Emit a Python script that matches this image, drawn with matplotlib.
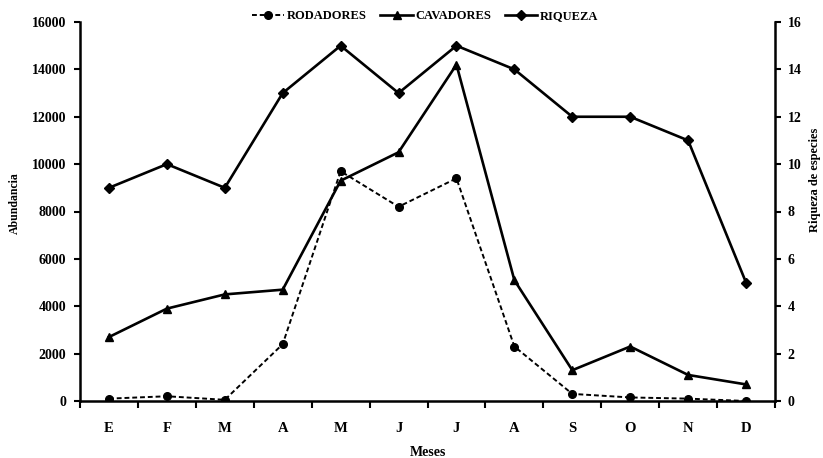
import matplotlib
matplotlib.use("Agg")
import matplotlib.pyplot as plt
from matplotlib.ticker import FixedLocator, NullFormatter, FixedFormatter
import numpy as np

months = ["E", "F", "M", "A", "M", "J", "J", "A", "S", "O", "N", "D"]
rodadores = [100, 200, 50, 2400, 9700, 8200, 9400, 2300, 300, 150, 100, 0]
cavadores = [2700, 3900, 4500, 4700, 9300, 10500, 14200, 5100, 1300, 2300, 1100, 700]
riqueza = [9, 10, 9, 13, 15, 13, 15, 14, 12, 12, 11, 5]

plt.rcParams['font.family'] = ['Liberation Serif', 'DejaVu Serif']
plt.rcParams['font.weight'] = 'bold'

fig = plt.figure(figsize=(8.23, 4.58), dpi=100)
ax = fig.add_axes([80/823, 1-401/458, 695/823, 379/458])
ax2 = ax.twinx()

x = np.arange(len(months))
l1, = ax.plot(x, rodadores, color='black', ls=(0, (2.5, 1.5)), lw=1.4, marker='o', ms=5.5, label='RODADORES')
l2, = ax.plot(x, cavadores, color='black', lw=1.9, marker='^', ms=6, label='CAVADORES')
l3, = ax2.plot(x, riqueza, color='black', lw=1.9, marker='D', ms=5, label='RIQUEZA')

ax.set_xlim(-0.5, len(months) - 0.5)
ax.set_ylim(0, 16000)
ax2.set_ylim(0, 16)
ax.set_yticks(np.arange(0, 16001, 2000))
ax2.set_yticks(np.arange(0, 17, 2))

ax.xaxis.set_major_locator(FixedLocator(np.arange(-0.5, len(months), 1)))
ax.xaxis.set_major_formatter(NullFormatter())
ax.xaxis.set_minor_locator(FixedLocator(x))
ax.xaxis.set_minor_formatter(FixedFormatter(months))
ax.tick_params(axis='x', which='minor', length=0, pad=15, labelsize=10.5)
ax.tick_params(axis='x', which='major', length=5, width=1.5, direction='out')
ax.tick_params(axis='y', length=4, width=1.5, direction='out', labelsize=10, pad=6)
ax2.tick_params(axis='y', length=4, width=1.5, direction='out', labelsize=10, pad=5)

for a in (ax, ax2):
    a.spines['top'].set_visible(False)
    for s in ('left', 'right', 'bottom'):
        a.spines[s].set_linewidth(1.8)
ax.spines['right'].set_visible(False)
ax2.spines['left'].set_visible(False)
ax2.spines['bottom'].set_visible(False)

ax.set_xlabel('Meses', fontsize=10, fontweight='bold', labelpad=8)
ax.set_ylabel('Abundancia', fontsize=8.5, fontweight='bold')
ax.yaxis.set_label_coords((21 - 80) / 695, (401 - 203) / 379)
ax2.set_ylabel('Riqueza de especies', fontsize=9, fontweight='bold')
ax2.yaxis.set_label_coords((809 - 80) / 695, (401 - 180) / 379)

fig.legend(handles=[l1, l2, l3], loc='center', bbox_to_anchor=(425/823, 1-16/458),
           ncol=3, frameon=False, handlelength=2.6, columnspacing=1.1,
           handletextpad=0.2, prop={'weight': 'bold', 'size': 9})

fig.savefig('out.png', dpi=100)
